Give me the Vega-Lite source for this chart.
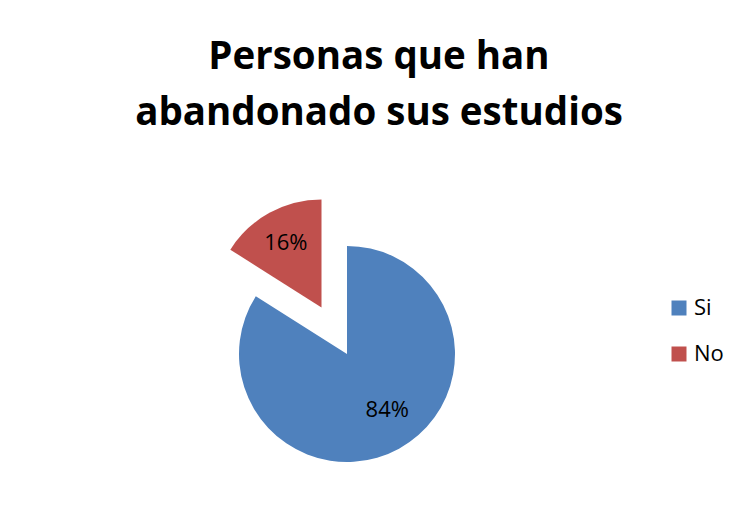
{
  "$schema": "https://vega.github.io/schema/vega-lite/v6.json",
  "width": 216,
  "height": 216,
  "autosize": {"type": "none"},
  "padding": {"left": 239, "top": 246, "right": 285, "bottom": 51},
  "background": "white",
  "title": {
    "text": ["Personas que han", "abandonado sus estudios"],
    "font": "Open Sans",
    "fontSize": 38.5,
    "fontWeight": "bold",
    "lineHeight": 56,
    "color": "#000000",
    "anchor": "middle",
    "frame": "group",
    "dx": 32,
    "baseline": "bottom",
    "offset": 28
  },
  "data": {
    "values": [
      {"respuesta": "Si", "proporcion": 0.84},
      {"respuesta": "No", "proporcion": 0.16}
    ]
  },
  "encoding": {
    "theta": {"field": "proporcion", "type": "quantitative", "stack": true},
    "order": {"field": "proporcion", "sort": "descending"},
    "color": {
      "field": "respuesta",
      "type": "nominal",
      "sort": ["Si", "No"],
      "scale": {"domain": ["Si", "No"], "range": ["#4F81BD", "#C0504D"]},
      "legend": {
        "title": null,
        "orient": "none",
        "legendX": 429,
        "legendY": 51,
        "symbolType": "square",
        "symbolSize": 225,
        "symbolStrokeWidth": 0,
        "labelFont": "Open Sans",
        "labelFontSize": 22,
        "labelColor": "#000000",
        "labelOffset": 4,
        "rowPadding": 24,
        "padding": 0
      }
    }
  },
  "layer": [
    {
      "mark": {"type": "arc", "outerRadius": 108},
      "encoding": {
        "opacity": {"condition": {"test": "datum.respuesta === 'Si'", "value": 1}, "value": 0}
      }
    },
    {
      "mark": {"type": "arc", "outerRadius": 108, "xOffset": -25.5, "yOffset": -46.5},
      "encoding": {
        "opacity": {"condition": {"test": "datum.respuesta === 'No'", "value": 1}, "value": 0}
      }
    },
    {
      "mark": {"type": "text", "radius": 69, "font": "Open Sans", "fontSize": 22, "dx": 7, "dy": -4},
      "encoding": {
        "text": {"field": "proporcion", "type": "quantitative", "format": ".0%"},
        "color": {"value": "#000000"},
        "opacity": {"condition": {"test": "datum.respuesta === 'Si'", "value": 1}, "value": 0}
      }
    },
    {
      "mark": {"type": "text", "radius": 74, "font": "Open Sans", "fontSize": 22, "xOffset": -25.5, "yOffset": -46.5},
      "encoding": {
        "text": {"field": "proporcion", "type": "quantitative", "format": ".0%"},
        "color": {"value": "#000000"},
        "opacity": {"condition": {"test": "datum.respuesta === 'No'", "value": 1}, "value": 0}
      }
    }
  ],
  "config": {"view": {"stroke": null}}
}
